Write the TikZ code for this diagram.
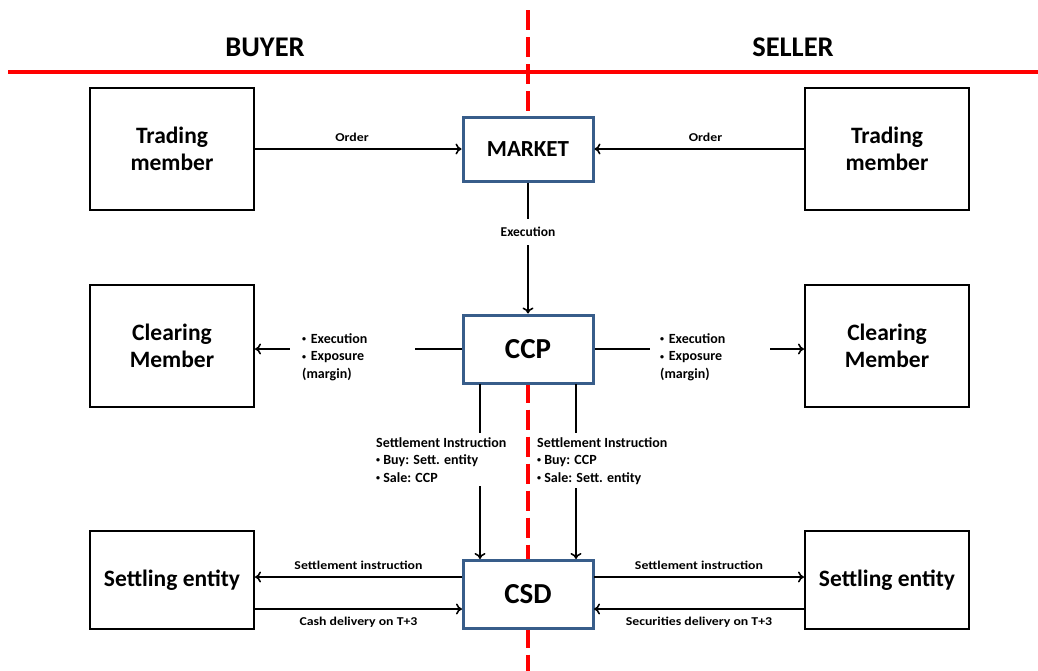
\documentclass[tikz,border=0pt]{standalone}
\usepackage{fontspec}
\setmainfont{Carlito}
\newfontfamily\widefont[FakeStretch=1.15]{Carlito}
\usetikzlibrary{arrows.meta}
\definecolor{boxblue}{RGB}{56,93,138}
\definecolor{divred}{RGB}{255,0,0}
\newcommand{\smallbul}{\raisebox{0.12em}{\fontsize{8}{8}\selectfont•}\ }
\begin{document}
\begin{tikzpicture}[x=1pt,y=-1pt,
  party/.style={draw=black,fill=white,line width=2pt,minimum width=164pt,align=center,font=\bfseries\fontsize{23.5}{27}\selectfont,inner sep=0pt},
  infra/.style={draw=boxblue,fill=white,line width=3pt,minimum width=130pt,align=center,font=\bfseries\fontsize{23}{26}\selectfont,inner sep=0pt},
  conn/.style={line width=1.6pt,-{To[length=6pt,width=11pt]}},
  small/.style={font=\widefont\bfseries\fontsize{12}{14}\selectfont,inner sep=1pt},
  mid/.style={font=\bfseries\fontsize{14}{17.5}\selectfont,align=left,inner sep=1pt},
  head/.style={font=\bfseries\fontsize{28.5}{30}\selectfont},
  divider/.style={divred,line width=4.5pt}
]
\useasboundingbox (0,0) rectangle (1038,670);
% party boxes
\node[party,minimum height=122pt] (tml) at (172,149) {Trading\\member};
\node[party,minimum height=122pt] (tmr) at (887,149) {Trading\\member};
\node[party,minimum height=122pt] (cml) at (172,346) {Clearing\\Member};
\node[party,minimum height=122pt] (cmr) at (887,346) {Clearing\\Member};
\node[party,minimum height=98pt] (sel) at (172,580) {Settling entity};
\node[party,minimum height=98pt] (ser) at (887,580) {Settling entity};
% infrastructure boxes
\node[infra,minimum height=64pt] (market) at (528,149) {MARKET};
\node[infra,minimum height=68pt,font=\bfseries\fontsize{29}{32}\selectfont] (ccp) at (528,349) {CCP};
\node[infra,minimum height=68pt,font=\bfseries\fontsize{29}{32}\selectfont] (csd) at (528,594) {CSD};
% dividers
\coordinate (vtop) at (528,10);
\coordinate (vbot) at (528,672);
\coordinate (hl) at (8,72);
\coordinate (hr) at (1038,72);
\draw[divider,dash pattern=on 20pt off 7pt] (vtop) -- (market.north);
\draw[divider,dash pattern=on 20pt off 7pt] ([yshift=2pt]ccp.south) -- (csd.north);
\draw[divider,dash pattern=on 20pt off 7pt] ([yshift=2pt]csd.south) -- (vbot);
\draw[divider] (hl) -- (hr);
\node[head] (buyer) at (265,47) {BUYER};
\node[head] (seller) at (793,47) {SELLER};
% redraw blue box edges over divider ends
\node[infra,minimum height=64pt] at (market) {MARKET};
\node[infra,minimum height=68pt,font=\bfseries\fontsize{29}{32}\selectfont] at (ccp) {CCP};
\node[infra,minimum height=68pt,font=\bfseries\fontsize{29}{32}\selectfont] at (csd) {CSD};
% orders
\draw[conn] (tml.east |- market.west) -- (market.west) node[small,pos=0.47,above=6pt] {Order};
\draw[conn] (tmr.west |- market.east) -- (market.east) node[small,pos=0.47,above=6pt] {Order};
% execution
\draw[conn] (market.south) -- (ccp.north) node[pos=0.38,fill=white,font=\bfseries\fontsize{13.5}{15}\selectfont,inner xsep=2pt,inner ysep=8pt] {Execution};
% CCP to clearing members
\draw[conn] (ccp.west) -- (cml.east |- ccp.west);
\node[mid,fill=white,inner xsep=12pt,text width=101pt,anchor=west] (exl) at (290,357) {\smallbul Execution\\\smallbul Exposure\\(margin)};
\draw[conn] (ccp.east) -- (cmr.west |- ccp.east);
\node[mid,fill=white,inner xsep=10pt,text width=100pt,anchor=west] (exr) at (650,357) {\smallbul Execution\\\smallbul Exposure\\(margin)};
% CCP to CSD
\coordinate (ccpa) at (480,384);
\coordinate (ccpb) at (576,384);
\coordinate (csda) at (480,559);
\coordinate (csdb) at (576,559);
\draw[conn] (ccpa) -- (csda);
\draw[conn] (ccpb) -- (csdb);
\node[mid,fill=white,anchor=north west,inner ysep=4pt,inner xsep=2pt] (sil) at (374,433) {Settlement Instruction\\\smallbul Buy: Sett. entity\\\smallbul Sale: CCP};
\node[mid,fill=white,anchor=north west,inner ysep=4pt,inner xsep=2pt] (sir) at (535,433) {Settlement Instruction\\\smallbul Buy: CCP\\\smallbul Sale: Sett. entity};
% CSD to settling entities
\coordinate (csdl1) at (462,577);
\coordinate (csdl2) at (462,609);
\coordinate (csdr1) at (594,577);
\coordinate (csdr2) at (594,609);
\draw[conn] (csdl1) -- (sel.east |- csdl1) node[small,pos=0.5,above=6pt] {Settlement instruction};
\draw[conn] (sel.east |- csdl2) -- (csdl2) node[small,pos=0.5,below=6pt] {Cash delivery on T+3};
\draw[conn] (csdr1) -- (ser.west |- csdr1) node[small,pos=0.5,above=6pt] {Settlement instruction};
\draw[conn] (ser.west |- csdr2) -- (csdr2) node[small,pos=0.5,below=6pt] {Securities delivery on T+3};
\end{tikzpicture}
\end{document}
